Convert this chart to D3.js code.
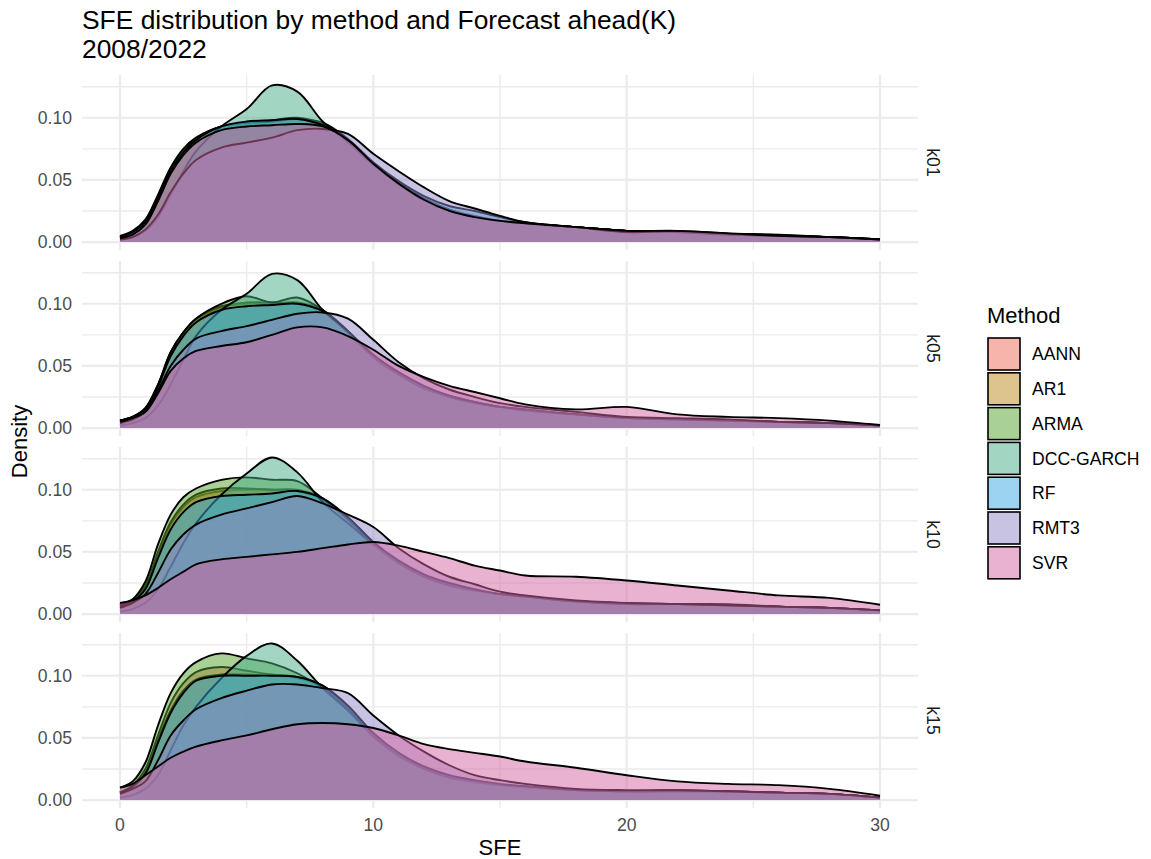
<!DOCTYPE html>
<html>
<head>
<meta charset="utf-8">
<script src="https://cdn.jsdelivr.net/npm/d3@7"></script>
<style>
  body { margin: 0; background: #fff; }
  text { font-family: "Liberation Sans", Arial, Helvetica, sans-serif; }
</style>
</head>
<body>
<div id="chart"></div>
<script>
// methods, in drawing order (later ones sit on top)
var methods = ["AANN", "AR1", "ARMA", "DCC-GARCH", "RF", "RMT3", "SVR"];
var methodColors = ["#ED6955", "#BB8919", "#53A32B", "#45AD87", "#39A7E1", "#9288C6", "#D465A2"];
var facets = ["k01", "k05", "k10", "k15"];

var sfe = [0, 0.5, 1, 1.5, 2, 2.5, 3, 4, 5, 6, 7, 8, 9, 10, 11, 12, 13, 14, 15, 16, 18, 20, 22, 24, 26, 28, 30];

// densities per facet, one row per method (same order as methods)
var k01 = [
  [0.004,0.008,0.017,0.037,0.059,0.074,0.083,0.092,0.095,0.097,0.099,0.096,0.083,0.064,0.048,0.035,0.026,0.021,0.017,0.015,0.012,0.009,0.008,0.006,0.005,0.004,0.002],
  [0.004,0.008,0.016,0.036,0.058,0.073,0.083,0.093,0.096,0.098,0.100,0.095,0.082,0.063,0.047,0.035,0.026,0.020,0.017,0.015,0.012,0.009,0.008,0.006,0.005,0.004,0.002],
  [0.005,0.009,0.018,0.038,0.060,0.075,0.084,0.093,0.096,0.097,0.099,0.095,0.082,0.063,0.047,0.034,0.025,0.020,0.017,0.015,0.012,0.009,0.008,0.006,0.005,0.004,0.002],
  [0.002,0.004,0.009,0.020,0.038,0.057,0.073,0.093,0.107,0.126,0.121,0.097,0.080,0.062,0.047,0.035,0.026,0.020,0.017,0.015,0.012,0.009,0.008,0.006,0.005,0.004,0.002],
  [0.004,0.008,0.016,0.035,0.057,0.072,0.082,0.093,0.097,0.098,0.099,0.094,0.082,0.064,0.049,0.037,0.029,0.025,0.020,0.016,0.012,0.009,0.008,0.006,0.005,0.004,0.002],
  [0.002,0.004,0.010,0.022,0.040,0.055,0.066,0.076,0.080,0.084,0.090,0.091,0.087,0.071,0.057,0.044,0.033,0.027,0.021,0.016,0.012,0.008,0.009,0.007,0.006,0.004,0.002],
  [0.003,0.006,0.014,0.033,0.055,0.070,0.080,0.090,0.093,0.094,0.095,0.093,0.082,0.063,0.047,0.034,0.025,0.020,0.017,0.015,0.012,0.009,0.009,0.007,0.005,0.004,0.002]
];
var k05 = [
  [0.006,0.009,0.015,0.034,0.060,0.076,0.087,0.097,0.100,0.100,0.101,0.095,0.078,0.058,0.044,0.033,0.026,0.021,0.017,0.015,0.011,0.008,0.007,0.006,0.005,0.004,0.002],
  [0.006,0.009,0.016,0.035,0.061,0.077,0.088,0.098,0.101,0.101,0.100,0.094,0.077,0.057,0.043,0.032,0.025,0.020,0.017,0.014,0.011,0.008,0.007,0.006,0.005,0.004,0.002],
  [0.006,0.009,0.016,0.035,0.061,0.077,0.088,0.100,0.106,0.101,0.105,0.095,0.077,0.057,0.043,0.032,0.025,0.020,0.017,0.014,0.011,0.008,0.007,0.006,0.005,0.004,0.002],
  [0.002,0.004,0.008,0.018,0.035,0.055,0.074,0.095,0.108,0.124,0.119,0.095,0.077,0.057,0.043,0.032,0.025,0.020,0.017,0.014,0.011,0.008,0.007,0.006,0.005,0.004,0.002],
  [0.006,0.009,0.015,0.033,0.058,0.074,0.085,0.095,0.098,0.099,0.100,0.094,0.078,0.059,0.045,0.034,0.026,0.021,0.017,0.015,0.011,0.008,0.007,0.006,0.005,0.004,0.002],
  [0.004,0.007,0.013,0.030,0.050,0.063,0.072,0.078,0.082,0.087,0.092,0.093,0.088,0.071,0.053,0.040,0.031,0.025,0.020,0.017,0.013,0.009,0.008,0.007,0.005,0.004,0.002],
  [0.005,0.008,0.013,0.028,0.046,0.056,0.062,0.066,0.069,0.075,0.081,0.081,0.074,0.063,0.050,0.041,0.034,0.029,0.024,0.019,0.015,0.017,0.011,0.009,0.008,0.006,0.0025]
];
var k10 = [
  [0.007,0.011,0.022,0.048,0.072,0.086,0.094,0.099,0.100,0.100,0.100,0.093,0.077,0.057,0.042,0.031,0.024,0.019,0.016,0.014,0.010,0.008,0.008,0.007,0.006,0.005,0.003],
  [0.007,0.011,0.023,0.050,0.074,0.088,0.096,0.101,0.101,0.100,0.099,0.092,0.076,0.056,0.041,0.030,0.023,0.019,0.016,0.014,0.010,0.009,0.008,0.007,0.006,0.005,0.003],
  [0.008,0.012,0.026,0.056,0.080,0.094,0.101,0.108,0.110,0.108,0.107,0.093,0.076,0.056,0.041,0.030,0.023,0.019,0.016,0.014,0.010,0.008,0.008,0.008,0.006,0.005,0.003],
  [0.002,0.004,0.009,0.020,0.038,0.057,0.073,0.096,0.113,0.126,0.114,0.090,0.073,0.056,0.041,0.030,0.023,0.019,0.016,0.014,0.010,0.008,0.008,0.007,0.006,0.005,0.003],
  [0.006,0.010,0.020,0.045,0.068,0.082,0.090,0.095,0.096,0.097,0.099,0.093,0.078,0.058,0.043,0.032,0.025,0.020,0.016,0.014,0.010,0.008,0.008,0.007,0.006,0.005,0.003],
  [0.005,0.009,0.016,0.033,0.052,0.064,0.072,0.080,0.085,0.090,0.095,0.089,0.080,0.070,0.053,0.040,0.030,0.024,0.018,0.015,0.011,0.009,0.008,0.007,0.006,0.005,0.003],
  [0.009,0.011,0.015,0.021,0.028,0.034,0.040,0.044,0.046,0.048,0.050,0.053,0.056,0.058,0.055,0.050,0.045,0.039,0.035,0.031,0.030,0.027,0.023,0.019,0.015,0.013,0.0075]
];
var k15 = [
  [0.006,0.012,0.025,0.052,0.078,0.094,0.103,0.107,0.104,0.101,0.099,0.092,0.075,0.052,0.036,0.026,0.019,0.015,0.012,0.011,0.008,0.007,0.007,0.007,0.006,0.005,0.002],
  [0.006,0.011,0.022,0.048,0.072,0.088,0.097,0.101,0.101,0.100,0.098,0.091,0.075,0.052,0.036,0.026,0.019,0.015,0.012,0.011,0.008,0.007,0.007,0.007,0.006,0.005,0.002],
  [0.010,0.015,0.030,0.060,0.086,0.102,0.111,0.118,0.114,0.110,0.102,0.090,0.073,0.051,0.035,0.025,0.018,0.014,0.012,0.010,0.008,0.007,0.008,0.007,0.006,0.005,0.002],
  [0.002,0.004,0.009,0.020,0.040,0.060,0.075,0.098,0.116,0.126,0.112,0.090,0.072,0.051,0.036,0.025,0.018,0.015,0.012,0.011,0.008,0.007,0.008,0.007,0.006,0.005,0.002],
  [0.006,0.011,0.021,0.046,0.070,0.086,0.096,0.100,0.100,0.100,0.099,0.092,0.076,0.054,0.038,0.027,0.020,0.016,0.013,0.011,0.008,0.007,0.007,0.007,0.006,0.005,0.002],
  [0.005,0.009,0.015,0.032,0.052,0.064,0.073,0.082,0.088,0.093,0.093,0.090,0.086,0.068,0.052,0.039,0.028,0.020,0.016,0.013,0.009,0.008,0.008,0.007,0.006,0.005,0.002],
  [0.010,0.013,0.020,0.027,0.034,0.039,0.043,0.048,0.052,0.057,0.061,0.062,0.061,0.058,0.052,0.045,0.041,0.038,0.035,0.031,0.026,0.020,0.015,0.013,0.012,0.009,0.0035]
];
var facetData = [k01, k05, k10, k15];

var xTicks = [0, 10, 20, 30];
var xMinor = [5, 15, 25];
var yTicks = [0, 0.05, 0.10];
var yMinor = [0.025, 0.075, 0.125];
var yTop = 0.128;

var W = 1151, H = 859;
var margin = {left: 82, top: 75},
    panelW = 836, panelH = 175, gap = 11;

var svg = d3.select("#chart").append("svg")
    .attr("width", W)
    .attr("height", H);

var x = d3.scaleLinear()
    .domain([-1.5, 31.5])
    .range([0, panelW]);

var y = d3.scaleLinear()
    .domain([-0.05 * yTop, 1.05 * yTop])
    .range([panelH, 0]);

var curve = d3.curveCatmullRom.alpha(0.5);

var area = d3.area()
    .x(function(d) { return x(d[0]); })
    .y0(y(0))
    .y1(function(d) { return y(d[1]); })
    .curve(curve);

var line = d3.line()
    .x(function(d) { return x(d[0]); })
    .y(function(d) { return y(d[1]); })
    .curve(curve);

// title
svg.append("text")
    .attr("x", margin.left).attr("y", 29)
    .attr("font-size", "26.4px").attr("fill", "#000")
    .text("SFE distribution by method and Forecast ahead(K)");
svg.append("text")
    .attr("x", margin.left).attr("y", 58)
    .attr("font-size", "26.4px").attr("fill", "#000")
    .text("2008/2022");

facets.forEach(function(f, fi) {
  var top = margin.top + fi * (panelH + gap);
  var g = svg.append("g")
      .attr("transform", "translate(" + margin.left + "," + top + ")");

  // grid
  g.selectAll(".ymin").data(yMinor).enter().append("line")
      .attr("x1", 0).attr("x2", panelW)
      .attr("y1", function(d) { return y(d); }).attr("y2", function(d) { return y(d); })
      .attr("stroke", "#EBEBEB").attr("stroke-width", 1.4);
  g.selectAll(".xmin").data(xMinor).enter().append("line")
      .attr("y1", 0).attr("y2", panelH)
      .attr("x1", function(d) { return x(d); }).attr("x2", function(d) { return x(d); })
      .attr("stroke", "#EBEBEB").attr("stroke-width", 1.4);
  g.selectAll(".ymaj").data(yTicks).enter().append("line")
      .attr("x1", 0).attr("x2", panelW)
      .attr("y1", function(d) { return y(d); }).attr("y2", function(d) { return y(d); })
      .attr("stroke", "#EBEBEB").attr("stroke-width", 2.2);
  g.selectAll(".xmaj").data(xTicks).enter().append("line")
      .attr("y1", 0).attr("y2", panelH)
      .attr("x1", function(d) { return x(d); }).attr("x2", function(d) { return x(d); })
      .attr("stroke", "#EBEBEB").attr("stroke-width", 2.2);

  // densities: fill then outline, method by method
  facetData[fi].forEach(function(vals, mi) {
    var pts = sfe.map(function(s, i) { return [s, vals[i]]; });
    g.append("path")
        .attr("d", area(pts))
        .attr("fill", methodColors[mi])
        .attr("fill-opacity", 0.5);
    g.append("path")
        .attr("d", line(pts))
        .attr("fill", "none")
        .attr("stroke", "#000")
        .attr("stroke-width", 1.9);
  });

  // y tick labels
  g.selectAll(".ylab").data(yTicks).enter().append("text")
      .attr("x", -10)
      .attr("y", function(d) { return y(d); })
      .attr("dy", "0.35em")
      .attr("text-anchor", "end")
      .attr("font-size", "17.6px")
      .attr("fill", "#4D4D4D")
      .text(function(d) { return d3.format(".2f")(d); });

  // strip label
  g.append("text")
      .attr("transform", "translate(" + (panelW + 15) + "," + (panelH / 2) + ") rotate(90)")
      .attr("text-anchor", "middle")
      .attr("dy", "0.35em")
      .attr("font-size", "17.6px")
      .attr("fill", "#1A1A1A")
      .text(f);

  // x tick labels on the bottom panel
  if (fi === facets.length - 1) {
    g.selectAll(".xlab").data(xTicks).enter().append("text")
        .attr("x", function(d) { return x(d); })
        .attr("y", panelH + 23)
        .attr("text-anchor", "middle")
        .attr("font-size", "17.6px")
        .attr("fill", "#4D4D4D")
        .text(function(d) { return d; });
  }
});

// axis titles
var plotBottom = margin.top + facets.length * panelH + (facets.length - 1) * gap;
svg.append("text")
    .attr("x", margin.left + panelW / 2)
    .attr("y", 855)
    .attr("text-anchor", "middle")
    .attr("font-size", "22px")
    .text("SFE");
svg.append("text")
    .attr("transform", "translate(27," + ((margin.top + plotBottom) / 2) + ") rotate(-90)")
    .attr("text-anchor", "middle")
    .attr("font-size", "22px")
    .text("Density");

// legend
var legend = svg.append("g").attr("transform", "translate(987,0)");
legend.append("text")
    .attr("x", 0).attr("y", 323)
    .attr("font-size", "22px")
    .text("Method");
methods.forEach(function(m, i) {
  var ky = 337 + i * 34.8;
  legend.append("rect")
      .attr("x", 1).attr("y", ky + 1)
      .attr("width", 32).attr("height", 32)
      .attr("fill", methodColors[i])
      .attr("fill-opacity", 0.5)
      .attr("stroke", "#000")
      .attr("stroke-width", 1.6);
  legend.append("text")
      .attr("x", 45).attr("y", ky + 17)
      .attr("dy", "0.35em")
      .attr("font-size", "17.6px")
      .attr("fill", "#000")
      .text(m);
});
</script>
</body>
</html>
